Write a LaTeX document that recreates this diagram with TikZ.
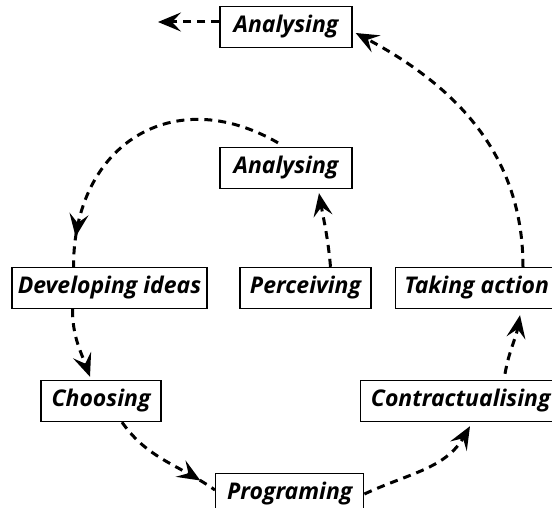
\documentclass[tikz,border=0pt]{standalone}
\usepackage{fontspec}
\setmainfont{Open Sans}
\usetikzlibrary{arrows.meta,decorations.markings}

\tikzset{
  stage/.style={draw,line width=1.4pt,font=\fontsize{23}{27}\selectfont\bfseries\itshape,
    inner xsep=4pt,inner ysep=0pt,minimum height=41pt},
  tip/.style={-{Stealth[length=23pt,width=19pt,inset=9pt]}},
  flow/.style={line width=3pt,dash pattern=on 8pt off 6pt,tip},
  midflow/.style={line width=3pt,dash pattern=on 8pt off 6pt,postaction={decorate},
    decoration={markings,mark=at position #1 with {\arrow{Stealth[length=23pt,width=19pt,inset=9pt]}}}},
}

\begin{document}
\begin{tikzpicture}[x=1pt,y=1pt]
	\useasboundingbox (0,0) rectangle (552,507);
	\clip (0,0) rectangle (552,507);
	
	% stages
	\node[stage,minimum width=132pt] (an1) at (286,480) {Analysing};
	\node[stage,minimum width=132pt] (an2) at (286,339) {Analysing};
	\node[stage,minimum width=131pt] (pe) at (305.5,219) {Perceiving};
	\node[stage,minimum width=195pt] (di) at (109.5,219) {Developing ideas};
	\node[stage,anchor=west,minimum width=162pt] (ta) at (395,219) {Taking action};
	\node[stage,minimum width=120pt] (ch) at (101,106) {Choosing};
	\node[stage,anchor=west,minimum width=200pt] (co) at (360,106) {Contractualising};
	\node[stage,anchor=west,minimum width=148pt] (pr) at (215,13) {Programing};
	
	\coordinate (out) at (158,485);
	
	% arrows
	\draw[flow] ([yshift=5pt]an1.west) -- (out);
	\draw[flow] ([xshift=128pt]ta.north west) to[out=90,in=-28] ([xshift=3pt,yshift=-6pt]an1.east);
	\draw[midflow=0.9] ([xshift=-8pt,yshift=4pt]an2.north) to[out=150,in=90,looseness=1.3] ([xshift=-36pt]di.north);
	\draw[flow] ([xshift=25pt]pe.north) to[out=95,in=-80] ([xshift=33pt,yshift=-4pt]an2.south);
	\draw[flow] ([xshift=-37pt]di.south) to[out=-90,in=110] ([xshift=-11pt,yshift=3pt]ch.north);
	\draw[midflow=0.85] ([xshift=21pt]ch.south) to[out=-55,in=145] ([yshift=4pt]pr.west);
	\draw[flow] (pr.east) to[out=25,in=-120] ([xshift=110pt,yshift=-4pt]co.south west);
	\draw[flow] ([xshift=145pt,yshift=6pt]co.north west) to[out=80,in=-100] ([xshift=125pt,yshift=-6pt]ta.south west);
\end{tikzpicture}
\end{document}
